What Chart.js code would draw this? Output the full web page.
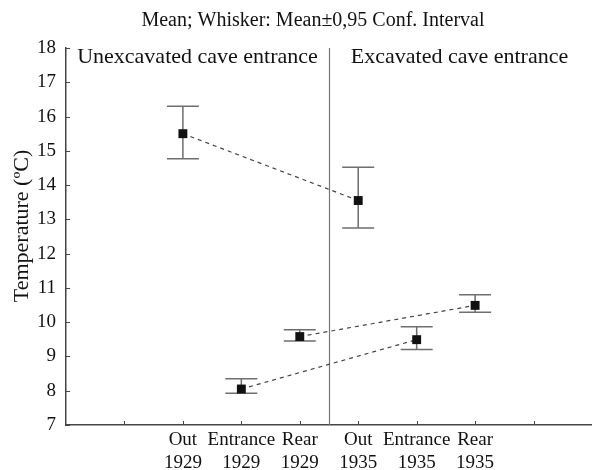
<!DOCTYPE html>
<html>
<head>
<meta charset="utf-8">
<script src="https://cdn.jsdelivr.net/npm/chart.js@4"></script>
<style>
  html, body { margin: 0; padding: 0; background: #fff; }
  canvas { display: block; }
</style>
</head>
<body>
<canvas id="chart" width="592" height="470"></canvas>
<script>
// data
const categories = ['Out 1929', 'Entrance 1929', 'Rear 1929', 'Out 1935', 'Entrance 1935', 'Rear 1935'];
const means = [15.5, 8.05, 9.58, 13.55, 9.49, 10.49];
const upper = [16.3, 8.35, 9.78, 14.52, 9.87, 10.8];
const lower = [14.77, 7.93, 9.45, 12.75, 9.2, 10.29];
const yTicks = [7, 8, 9, 10, 11, 12, 13, 14, 15, 16, 17, 18];
const sections = ['Unexcavated cave entrance', 'Excavated cave entrance'];
const titleText = 'Mean; Whisker: Mean\u00b10,95 Conf. Interval';

const FONT = '"Liberation Serif", "DejaVu Serif", serif';
const firstPos = 2;   // category index 0 sits at x = 2 on the axis
const divider = 4.5;  // between 1929 and 1935

// one dashed series per location, 1929 -> 1935
function series(i) {
  return [
    { x: firstPos + i, y: means[i] },
    { x: firstPos + i + 3, y: means[i + 3] }
  ];
}

const datasets = [0, 1, 2].map(i => ({
  data: series(i),
  borderColor: '#444',
  borderWidth: 1.2,
  borderDash: [4, 4],
  pointStyle: 'rect',
  pointRadius: 6.3,
  pointBackgroundColor: '#111',
  pointBorderWidth: 0,
  pointHoverRadius: 6.3
}));

const extras = {
  id: 'extras',
  beforeDatasetsDraw(chart) {
    const { ctx, scales: { x, y }, chartArea } = chart;
    ctx.save();
    // divider line
    ctx.strokeStyle = '#777';
    ctx.lineWidth = 1.2;
    const dx = Math.round(x.getPixelForValue(divider)) + 0.5;
    ctx.beginPath();
    ctx.moveTo(dx, chartArea.top);
    ctx.lineTo(dx, chartArea.bottom);
    ctx.stroke();

    // whiskers
    ctx.strokeStyle = '#6e6e6e';
    ctx.lineWidth = 1.5;
    categories.forEach((c, i) => {
      const px = x.getPixelForValue(firstPos + i);
      const top = y.getPixelForValue(upper[i]);
      const bot = y.getPixelForValue(lower[i]);
      ctx.beginPath();
      ctx.moveTo(px, top); ctx.lineTo(px, bot);
      ctx.moveTo(px - 16, top); ctx.lineTo(px + 16, top);
      ctx.moveTo(px - 16, bot); ctx.lineTo(px + 16, bot);
      ctx.stroke();
    });
    ctx.restore();
  },
  afterDraw(chart) {
    const { ctx, scales: { x, y }, chartArea } = chart;
    ctx.save();
    // inward tick marks
    ctx.strokeStyle = '#444';
    ctx.lineWidth = 1;
    yTicks.forEach(v => {
      const py = Math.round(y.getPixelForValue(v)) + 0.5;
      ctx.beginPath();
      ctx.moveTo(chartArea.left, py);
      ctx.lineTo(chartArea.left + 4, py);
      ctx.stroke();
    });
    for (let v = 1; v <= 8; v++) {
      const px = Math.round(x.getPixelForValue(v)) + 0.5;
      ctx.beginPath();
      ctx.moveTo(px, chartArea.bottom);
      ctx.lineTo(px, chartArea.bottom - 4);
      ctx.stroke();
    }

    ctx.fillStyle = '#111';
    ctx.textBaseline = 'middle';
    ctx.textAlign = 'center';
    ctx.font = '20px ' + FONT;
    ctx.fillText(titleText, 313, 21);

    // section labels
    const leftMid = (chartArea.left + x.getPixelForValue(divider)) / 2;
    const rightMid = (x.getPixelForValue(divider) + chartArea.right) / 2;
    ctx.font = '22px ' + FONT;
    ctx.fillText(sections[0], leftMid, 57);
    ctx.fillText(sections[1], rightMid - 1, 57);

    // y axis title
    ctx.font = '22px ' + FONT;
    ctx.translate(22, 226);
    ctx.rotate(-Math.PI / 2);
    ctx.fillText('Temperature (\u00baC)', 0, 0);
    ctx.restore();
  }
};

new Chart(document.getElementById('chart'), {
  type: 'line',
  data: { datasets },
  options: {
    responsive: false,
    animation: false,
    events: [],
    layout: { autoPadding: false, padding: { top: 48, right: 0, left: 0, bottom: 0 } },
    plugins: {
      legend: { display: false },
      title: { display: false },
      tooltip: { enabled: false }
    },
    scales: {
      x: {
        type: 'linear',
        min: 0,
        max: 9,
        grid: { display: false, drawTicks: false },
        border: { display: true, color: '#444', width: 1.5 },
        ticks: {
          stepSize: 1,
          autoSkip: false,
          maxRotation: 0,
          padding: 4,
          color: '#111',
          font: { family: FONT, size: 19, lineHeight: 1.2 },
          callback: v => {
            const i = v - firstPos;
            return (i >= 0 && i < categories.length) ? categories[i].split(' ') : '';
          }
        },
        afterFit: s => { s.height = 45; s.paddingLeft = 0; s.paddingRight = 0; }
      },
      y: {
        min: yTicks[0],
        max: yTicks[yTicks.length - 1],
        grid: { display: false, drawTicks: false },
        border: { display: true, color: '#444', width: 1.5 },
        ticks: {
          stepSize: 1,
          padding: 10,
          color: '#111',
          font: { family: FONT, size: 19 }
        },
        afterFit: s => { s.width = 66; }
      }
    }
  },
  plugins: [extras]
});
</script>
</body>
</html>
